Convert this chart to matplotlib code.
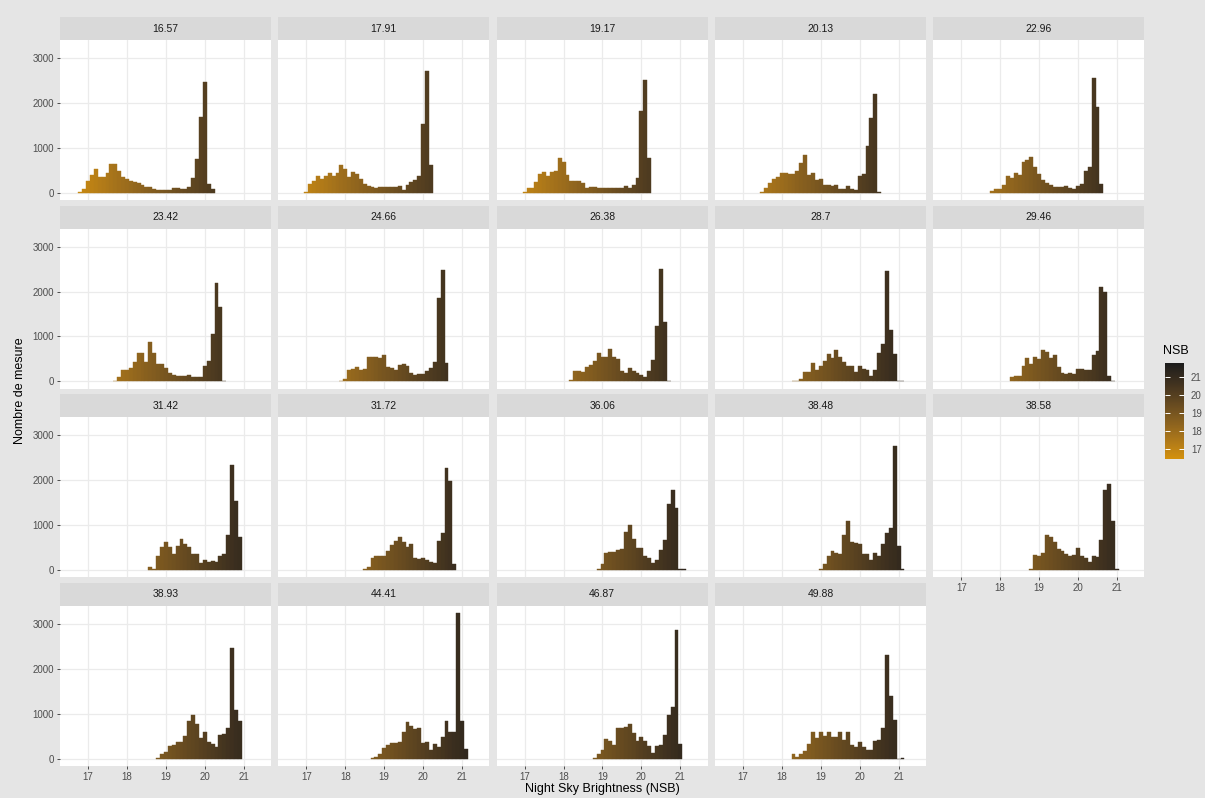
import matplotlib
matplotlib.use("Agg")
import matplotlib.pyplot as plt
import matplotlib.colors as mcolors
import numpy as np

plt.rcParams['font.family'] = ['Liberation Sans', 'DejaVu Sans']

# facet titles (row by row) and first bin centre of each histogram (bin width 0.1)
facets = ['16.57', '17.91', '19.17', '20.13', '22.96',
          '23.42', '24.66', '26.38', '28.7', '29.46',
          '31.42', '31.72', '36.06', '38.48', '38.58',
          '38.93', '44.41', '46.87', '49.88']
starts = [16.8, 17.0, 17.0, 17.5, 17.8,
          17.7, 17.9, 18.2, 18.3, 18.3,
          18.6, 18.5, 18.9, 19.0, 18.8,
          18.8, 18.7, 18.8, 18.3]

c_1657 = [15, 90, 260, 400, 525, 345, 360, 430, 650, 650, 490, 345, 310, 270, 250, 210, 165, 135,
          135, 75, 70, 70, 70, 70, 110, 110, 90, 90, 135, 320, 750, 1690, 2460, 205, 75]
c_1791 = [15, 200, 255, 380, 300, 375, 430, 375, 430, 615, 530, 340, 465, 420, 300, 195, 140, 125,
          95, 135, 135, 120, 120, 120, 150, 60, 170, 250, 285, 375, 1520, 2720, 620]
c_1917 = [15, 110, 110, 240, 410, 465, 380, 470, 495, 765, 690, 400, 270, 260, 260, 210, 100, 120,
          135, 110, 110, 110, 110, 100, 110, 110, 155, 100, 170, 320, 1810, 2510, 770]
c_2013 = [15, 110, 225, 300, 345, 440, 440, 410, 420, 480, 665, 840, 405, 430, 290, 300, 180, 165,
          160, 170, 80, 90, 150, 80, 50, 380, 410, 1040, 1660, 2210, 20]
c_2296 = [45, 75, 75, 180, 365, 330, 450, 390, 675, 720, 800, 570, 420, 285, 215, 180, 130, 130,
          130, 160, 110, 75, 160, 195, 480, 570, 2560, 1910, 185]
c_2342 = [15, 100, 245, 245, 305, 420, 620, 640, 440, 880, 620, 395, 380, 305, 195, 150, 110, 110,
          110, 140, 105, 105, 90, 345, 450, 1065, 2185, 1650, 15]
c_2466 = [10, 60, 260, 275, 315, 245, 275, 550, 535, 550, 530, 580, 330, 300, 255, 365, 380, 350,
          195, 150, 155, 155, 225, 290, 430, 1850, 2490, 415]
c_2638 = [20, 230, 240, 210, 320, 360, 455, 620, 545, 545, 715, 545, 490, 230, 195, 290, 230, 195,
          150, 100, 225, 470, 1240, 2510, 1330, 10]
c_2870 = [5, 10, 45, 210, 215, 405, 260, 345, 455, 605, 510, 700, 545, 420, 350, 335, 210, 345,
          285, 245, 120, 260, 620, 830, 2465, 1140, 605, 0, 5]
c_2946 = [100, 120, 120, 335, 515, 390, 540, 500, 695, 655, 515, 580, 320, 185, 155, 185, 155, 270,
          270, 255, 255, 580, 670, 2110, 2000, 120, 10]
c_3142 = [70, 25, 310, 510, 620, 500, 365, 540, 690, 570, 520, 365, 365, 165, 220, 180, 200, 180,
          300, 350, 775, 2340, 1545, 730]
c_3172 = [15, 70, 255, 315, 305, 305, 420, 545, 655, 725, 620, 520, 575, 260, 245, 275, 215, 170,
          155, 650, 820, 2260, 1985, 125]
c_3606 = [15, 135, 370, 395, 400, 455, 460, 840, 1005, 690, 480, 485, 320, 260, 165, 215, 450, 670,
          1470, 1775, 1380, 20, 10]
c_3848 = [20, 125, 315, 420, 375, 345, 770, 1080, 615, 600, 585, 365, 345, 225, 385, 300, 575, 820,
          930, 2750, 540, 10]
c_3858 = [15, 335, 320, 380, 770, 725, 630, 470, 425, 345, 320, 330, 485, 305, 275, 185, 320, 285,
          665, 1790, 1915, 1090, 10]
c_3893 = [10, 100, 140, 290, 300, 360, 370, 500, 840, 970, 780, 450, 580, 360, 330, 250, 520, 540,
          670, 2470, 1080, 840]
c_4441 = [10, 40, 90, 230, 300, 340, 350, 370, 580, 820, 720, 660, 690, 350, 360, 190, 320, 250,
          480, 840, 580, 600, 3240, 840, 210]
c_4687 = [10, 90, 200, 430, 400, 300, 670, 680, 700, 760, 560, 400, 470, 400, 290, 130, 280, 300,
          520, 970, 1150, 2870, 320]
c_4988 = [100, 40, 90, 165, 330, 580, 450, 580, 500, 580, 480, 480, 580, 410, 580, 310, 250, 370,
          260, 195, 180, 380, 410, 680, 2310, 1390, 855, 0, 20]

counts = [c_1657, c_1791, c_1917, c_2013, c_2296, c_2342, c_2466, c_2638, c_2870, c_2946,
          c_3142, c_3172, c_3606, c_3848, c_3858, c_3893, c_4441, c_4687, c_4988]

x_ticks = [17, 18, 19, 20, 21]
y_ticks = [0, 1000, 2000, 3000]


# ggplot-like gradient: interpolate in CIE Lab between low and high colours
M = np.array([[0.4124, 0.3576, 0.1805], [0.2126, 0.7152, 0.0722], [0.0193, 0.1192, 0.9505]])
WHITE = np.array([0.95047, 1.0, 1.08883])


def to_lab(c):
    c = np.asarray(mcolors.to_rgb(c))
    lin = np.where(c <= 0.04045, c / 12.92, ((c + 0.055) / 1.055) ** 2.4)
    xyz = M @ lin / WHITE
    f = np.where(xyz > 0.008856, np.cbrt(xyz), 7.787 * xyz + 16 / 116)
    return np.array([116 * f[1] - 16, 500 * (f[0] - f[1]), 200 * (f[1] - f[2])])


def from_lab(lab):
    fy = (lab[0] + 16) / 116
    f = np.array([fy + lab[1] / 500, fy, fy - lab[2] / 200])
    xyz = np.where(f ** 3 > 0.008856, f ** 3, (f - 16 / 116) / 7.787) * WHITE
    lin = np.clip(np.linalg.inv(M) @ xyz, 0, None)
    c = np.where(lin <= 0.0031308, 12.92 * lin, 1.055 * lin ** (1 / 2.4) - 0.055)
    return np.clip(c, 0, 1)


lo, hi = to_lab('#D4910B'), to_lab('#1C1C1C')
cmap = mcolors.ListedColormap([from_lab(lo + t * (hi - lo)) for t in np.linspace(0, 1, 256)])
norm = mcolors.Normalize(16.45, 21.75)

W, H = 1205, 798
BG = '#E5E5E5'


def box(x, y, w, h):
    return [x / W, 1 - (y + h) / H, w / W, h / H]


fig = plt.figure(figsize=(W / 100, H / 100), dpi=100, facecolor=BG)

col_x = [60 + 218.3 * i for i in range(5)]
row_y = [17 + 188.6 * i for i in range(4)]
pw, ph, sh = 211, 160, 23

for k, lab in enumerate(facets):
    r, c = divmod(k, 5)
    x0, y0 = col_x[c], row_y[r]

    sax = fig.add_axes(box(x0, y0, pw, sh))
    sax.set_facecolor('#D9D9D9')
    sax.set_xticks([])
    sax.set_yticks([])
    for s in sax.spines.values():
        s.set_visible(False)
    sax.text(0.5, 0.5, lab, ha='center', va='center', fontsize=7.5, color='#1A1A1A',
             transform=sax.transAxes)

    ax = fig.add_axes(box(x0, y0 + sh, pw, ph))
    ax.set_facecolor('white')
    for s in ax.spines.values():
        s.set_visible(False)
    ax.set_xlim(16.28, 21.70)
    ax.set_ylim(-162, 3402)
    ax.set_xticks(x_ticks)
    ax.set_yticks(y_ticks)
    ax.grid(True, color='#EBEBEB', linewidth=0.9)
    ax.set_axisbelow(True)

    vals = np.array(counts[k])
    xs = starts[k] + 0.1 * np.arange(len(vals))
    cols = cmap(norm(xs))
    ax.bar(xs, vals, width=0.1, color=cols, edgecolor=cols, linewidth=0.3)

    show_x = r == 3 or (r == 2 and c == 4)
    ax.tick_params(axis='x', length=2.5 if show_x else 0, color='#333333', width=0.6,
                   labelsize=7, labelcolor='#4D4D4D', labelbottom=show_x, pad=2)
    ax.tick_params(axis='y', length=2.5 if c == 0 else 0, color='#333333', width=0.6,
                   labelsize=7, labelcolor='#4D4D4D', labelleft=(c == 0), pad=2)

fig.text(602 / W, 1 - 789 / H, 'Night Sky Brightness (NSB)', ha='center', va='center',
         fontsize=9, color='black')
fig.text(20 / W, 1 - 391 / H, 'Nombre de mesure', ha='center', va='center', rotation=90,
         fontsize=9, color='black')

# colour bar legend
cax = fig.add_axes(box(1165, 363, 19, 96))
sm = plt.cm.ScalarMappable(norm=norm, cmap=cmap)
cb = fig.colorbar(sm, cax=cax, ticks=x_ticks)
cb.outline.set_visible(False)
cax.tick_params(direction='in', color='white', length=3.5, width=0.7, left=True, right=True,
                labelsize=7, labelcolor='#4D4D4D', pad=5)
fig.text(1163 / W, 1 - 351 / H, 'NSB', ha='left', va='center', fontsize=9, color='black')

fig.savefig('out.png', dpi=100, facecolor=BG)
